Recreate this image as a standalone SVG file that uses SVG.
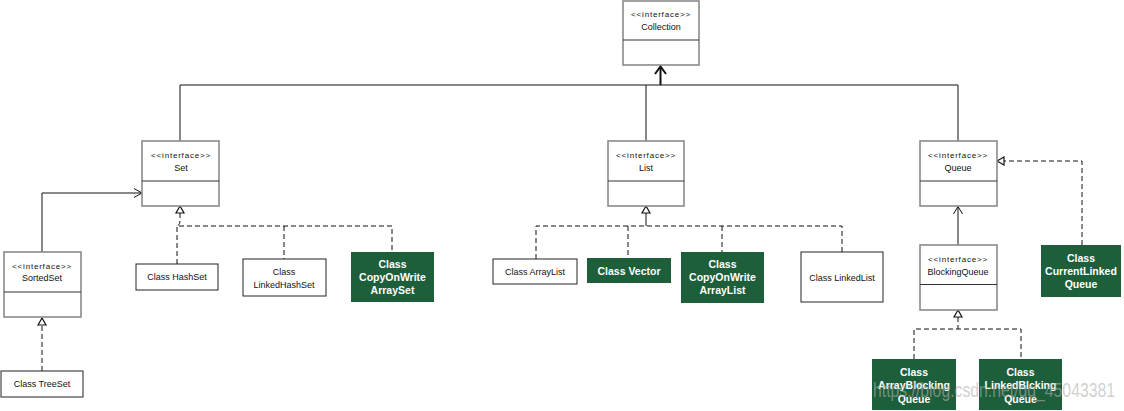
<svg xmlns="http://www.w3.org/2000/svg" width="1124" height="411" viewBox="0 0 1124 411">
<style>
.iface{fill:#fff;stroke:#8a8a8a;stroke-width:1.6}
.div{stroke:#333;stroke-width:1}
.cls{fill:#fff;stroke:#222;stroke-width:1}
.grn{fill:#1d5e3b;stroke:none}
.st{font-family:"Liberation Sans",Arial,sans-serif;font-size:8px;letter-spacing:0.8px;fill:#111;text-anchor:middle}
.nm{font-family:"Liberation Sans",Arial,sans-serif;font-size:9px;fill:#111;text-anchor:middle}
.wb{font-family:"Liberation Sans",Arial,sans-serif;font-size:10.5px;font-weight:bold;fill:#fff;text-anchor:middle}
.ln{fill:none;stroke:#111;stroke-width:1}
.ds{fill:none;stroke:#111;stroke-width:1;stroke-dasharray:5,3}
.tri{fill:#fff;stroke:#111;stroke-width:1.2}
.wm{font-family:"Liberation Sans",Arial,sans-serif;font-size:20px;fill:#b0b0b0;fill-opacity:0.6}
</style>
<rect width="1124" height="411" fill="#fff"/>
<g id="connectors">
<path class="ln" d="M180 141 V85 H958 V141 M646 85 V141"/>
<path d="M660.5 85 V67" fill="none" stroke="#111" stroke-width="2"/>
<polyline points="655,74 660.5,66.5 666,74" fill="none" stroke="#111" stroke-width="2"/>
<path class="ln" d="M42 252 V193 H141"/>
<polyline class="ln" points="134,188.5 142,193 134,197.5"/>
<path class="ds" d="M42 371 V325"/>
<polygon class="tri" points="42,318 38,325 46,325"/>
<polygon class="tri" points="180,206 176,213 184,213"/>
<path class="ds" d="M180 213 V221 Q180 225 177 226 M177 264 V226 H392 V252 M284 226 V259"/>
<polygon class="tri" points="646,206 642,213 650,213"/>
<path class="ln" d="M646 213 V226"/>
<path class="ds" d="M536 259 V226 H842 V252 M628 226 V258 M722 226 V252"/>
<path class="ds" d="M1082 245 V161 H1004"/>
<polygon class="tri" points="997,161 1004,157 1004,165"/>
<path class="ln" d="M958 245 V207"/>
<polyline class="ln" points="953.5,214 958,206.5 962.5,214"/>
<polygon class="tri" points="958,310 954,317 962,317"/>
<path class="ds" d="M958 317 V329 M914 359 V329 H1021 V359"/>
</g>
<g id="collection">
<rect class="iface" x="623" y="1" width="76" height="64"/>
<line class="div" x1="623" y1="40" x2="699" y2="40"/>
<text class="st" x="661" y="17">&lt;&lt;interface&gt;&gt;</text>
<text class="nm" x="661" y="30">Collection</text>
</g>
<g id="set">
<rect class="iface" x="142" y="141" width="77" height="65"/>
<line class="div" x1="142" y1="181" x2="219" y2="181"/>
<text class="st" x="181" y="158">&lt;&lt;interface&gt;&gt;</text>
<text class="nm" x="181" y="171">Set</text>
</g>
<g id="list">
<rect class="iface" x="608" y="141" width="76" height="65"/>
<line class="div" x1="608" y1="181" x2="684" y2="181"/>
<text class="st" x="646" y="158">&lt;&lt;interface&gt;&gt;</text>
<text class="nm" x="646" y="171">List</text>
</g>
<g id="queue">
<rect class="iface" x="920" y="141" width="77" height="65"/>
<line class="div" x1="920" y1="181" x2="997" y2="181"/>
<text class="st" x="958" y="158">&lt;&lt;interface&gt;&gt;</text>
<text class="nm" x="958" y="171">Queue</text>
</g>
<g id="sortedset">
<rect class="iface" x="4" y="252" width="77" height="65"/>
<line class="div" x1="4" y1="292" x2="81" y2="292"/>
<text class="st" x="42" y="269">&lt;&lt;interface&gt;&gt;</text>
<text class="nm" x="42" y="281">SortedSet</text>
</g>
<g id="treeset">
<rect class="cls" x="1" y="371" width="82" height="26"/>
<text class="nm" x="42" y="387">Class TreeSet</text>
</g>
<g id="hashset">
<rect class="cls" x="136" y="264" width="82" height="26"/>
<text class="nm" x="177" y="280">Class HashSet</text>
</g>
<g id="linkedhashset">
<rect class="cls" x="243" y="259" width="83" height="37"/>
<text class="nm" x="284" y="274.5">Class</text>
<text class="nm" x="284" y="288">LinkedHashSet</text>
</g>
<g id="copyonwritearrayset">
<rect class="grn" x="351" y="252" width="83" height="50"/>
<text class="wb" x="392.5" y="267.5">Class</text>
<text class="wb" x="392.5" y="281">CopyOnWrite</text>
<text class="wb" x="392.5" y="294">ArraySet</text>
</g>
<g id="arraylist">
<rect class="cls" x="493" y="259" width="84" height="25"/>
<text class="nm" x="535" y="275">Class ArrayList</text>
</g>
<g id="vector">
<rect class="grn" x="587" y="258" width="84" height="25"/>
<text class="wb" x="629" y="275">Class Vector</text>
</g>
<g id="copyonwritearraylist">
<rect class="grn" x="681" y="252" width="83" height="51"/>
<text class="wb" x="722.5" y="268">Class</text>
<text class="wb" x="722.5" y="281">CopyOnWrite</text>
<text class="wb" x="722.5" y="294">ArrayList</text>
</g>
<g id="linkedlist">
<rect class="cls" x="801" y="252" width="82" height="50"/>
<text class="nm" x="842" y="281">Class LinkedList</text>
</g>
<g id="blockingqueue">
<rect class="iface" x="920" y="245" width="77" height="65"/>
<line class="div" x1="920" y1="284.5" x2="997" y2="284.5"/>
<text class="st" x="958" y="262">&lt;&lt;interface&gt;&gt;</text>
<text class="nm" x="958" y="275">BlockingQueue</text>
</g>
<g id="currentlinkedqueue">
<rect class="grn" x="1041" y="245" width="80" height="52"/>
<text class="wb" x="1081" y="262">Class</text>
<text class="wb" x="1081" y="275">CurrentLinked</text>
<text class="wb" x="1081" y="288">Queue</text>
</g>
<g id="arrayblockingqueue">
<rect class="grn" x="872" y="359" width="84" height="51"/>
<text class="wb" x="914" y="376">Class</text>
<text class="wb" x="914" y="389">ArrayBlocking</text>
<text class="wb" x="914" y="402.5">Queue</text>
</g>
<g id="linkedblockingqueue">
<rect class="grn" x="979" y="359" width="83" height="51"/>
<text class="wb" x="1020.5" y="376">Class</text>
<text class="wb" x="1020.5" y="389">LinkedBlcking</text>
<text class="wb" x="1020.5" y="402.5">Queue</text>
</g>
<text class="wm" x="873" y="397" textLength="242" lengthAdjust="spacingAndGlyphs">https://blog.csdn.net/qq_45043381</text>
</svg>
